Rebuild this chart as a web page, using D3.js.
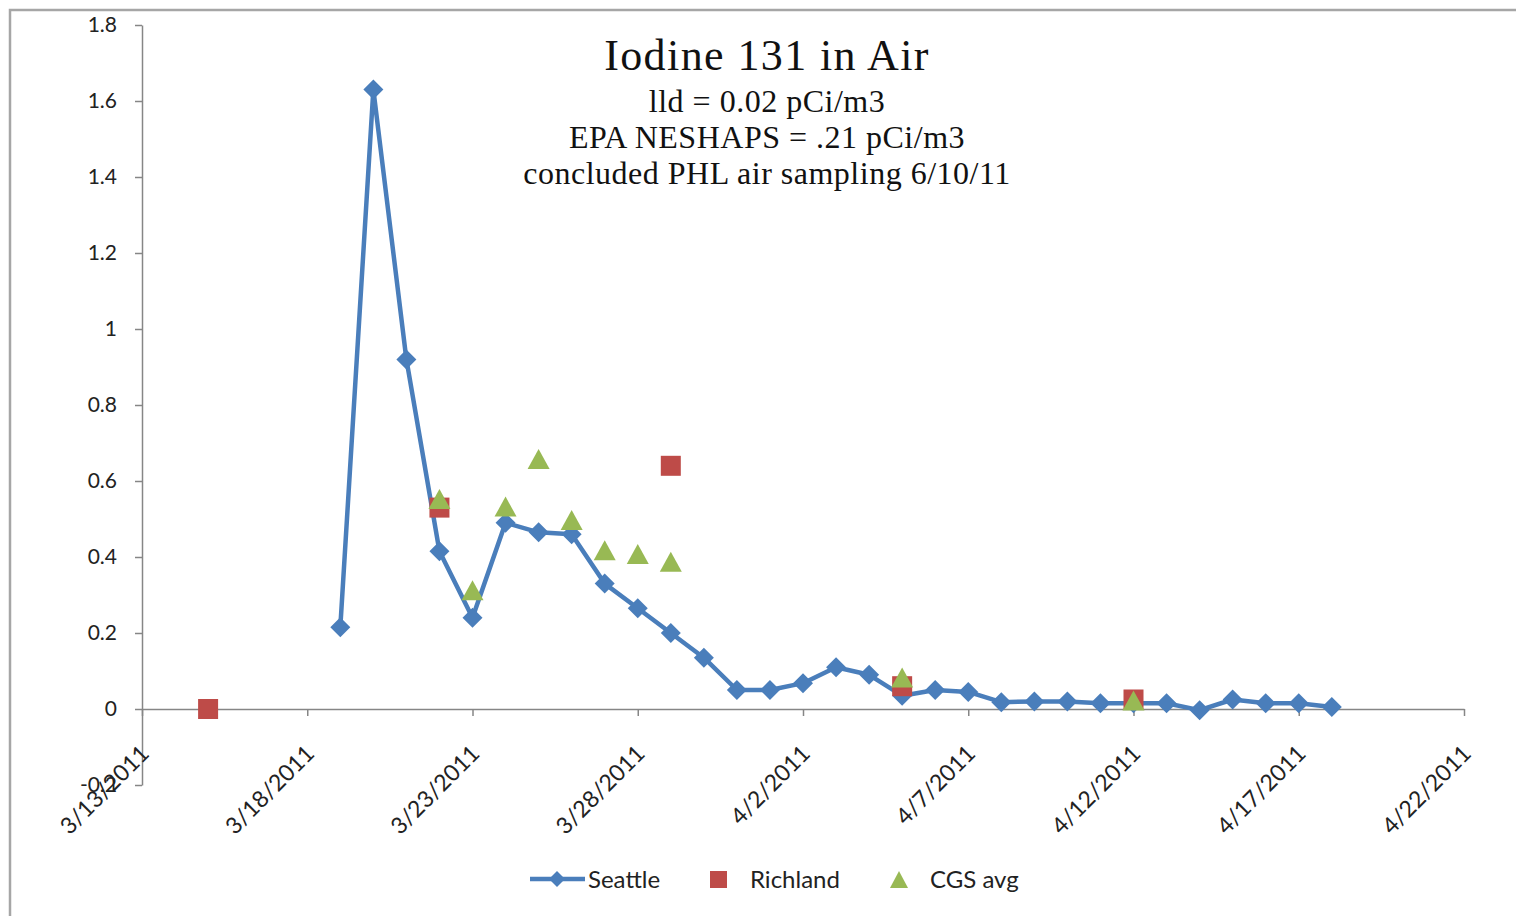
<!DOCTYPE html>
<html><head><meta charset="utf-8">
<script src="https://cdn.jsdelivr.net/npm/d3@7"></script>
<style>
html,body{margin:0;padding:0;background:#fff;overflow:hidden}
svg{display:block}
</style></head>
<body><svg id="c" width="1516" height="916"></svg>
<script>
// ---- data ----
const seattleDates = ["2011-03-19","2011-03-20","2011-03-21","2011-03-22","2011-03-23","2011-03-24","2011-03-25","2011-03-26","2011-03-27","2011-03-28","2011-03-29","2011-03-30","2011-03-31","2011-04-01","2011-04-02","2011-04-03","2011-04-04","2011-04-05","2011-04-06","2011-04-07","2011-04-08","2011-04-09","2011-04-10","2011-04-11","2011-04-12","2011-04-13","2011-04-14","2011-04-15","2011-04-16","2011-04-17","2011-04-18"];
const seattleValues = [0.215,1.63,0.92,0.415,0.24,0.49,0.465,0.46,0.33,0.265,0.2,0.135,0.05,0.05,0.068,0.11,0.09,0.035,0.05,0.045,0.018,0.02,0.02,0.015,0.015,0.015,-0.003,0.025,0.015,0.015,0.005];
const richlandDates = ["2011-03-15","2011-03-22","2011-03-29","2011-04-05","2011-04-12"];
const richlandValues = [0.0,0.53,0.64,0.06,0.025];
const cgsDates = ["2011-03-22","2011-03-23","2011-03-24","2011-03-25","2011-03-26","2011-03-27","2011-03-28","2011-03-29","2011-04-05","2011-04-12"];
const cgsValues = [0.55,0.31,0.53,0.655,0.495,0.415,0.405,0.385,0.08,0.02];
const xTickDates = ["2011-03-13","2011-03-18","2011-03-23","2011-03-28","2011-04-02","2011-04-07","2011-04-12","2011-04-17","2011-04-22"];
const xTickLabels = ["3/13/2011","3/18/2011","3/23/2011","3/28/2011","4/2/2011","4/7/2011","4/12/2011","4/17/2011","4/22/2011"];
const yTicks = [-0.2,0,0.2,0.4,0.6,0.8,1,1.2,1.4,1.6,1.8];
const yTickLabels = ["-0.2","0","0.2","0.4","0.6","0.8","1","1.2","1.4","1.6","1.8"];
const titleText = "Iodine 131 in Air";
const subtitleLines = ["lld = 0.02 pCi/m3","EPA NESHAPS = .21 pCi/m3","concluded PHL air sampling 6/10/11"];
const seriesNames = ["Seattle","Richland","CGS avg"];

// ---- setup ----
const parse = d3.utcParse("%Y-%m-%d");
const svg = d3.select("#c");
const C = {line:"#4a7ebb", red:"#be4b48", green:"#98b954", axis:"#868686", frame:"#a6a6a6"};
const sans = "Lato, 'Open Sans', sans-serif";
const serif = "'Liberation Serif', 'DejaVu Serif', serif";

// frame
svg.append("path").attr("d","M10,916 L10,10 L1516,10").attr("fill","none").attr("stroke",C.frame).attr("stroke-width",2.5);

const x = d3.scaleUtc().domain([parse(xTickDates[0]), parse(xTickDates[xTickDates.length-1])]).range([142,1464]);
const y = d3.scaleLinear().domain([-0.2,1.8]).range([785,25]);

// y axis
const yAxis = d3.axisLeft(y).tickValues(yTicks).tickSize(7).tickSizeOuter(0).tickFormat((d,i)=>yTickLabels[i]);
const gy = svg.append("g").attr("transform","translate(142,0)").call(yAxis);
gy.select(".domain").attr("stroke",C.axis).attr("stroke-width",1.5);
gy.selectAll(".tick line").attr("stroke",C.axis).attr("stroke-width",1.5);
gy.selectAll(".tick text").attr("x",-25).attr("font-family",sans).attr("font-size",21).attr("fill","#222");

// x axis at y=0
const xAxis = d3.axisBottom(x).tickValues(xTickDates.map(parse)).tickSize(7).tickSizeOuter(0).tickFormat((d,i)=>xTickLabels[i]);
const gx = svg.append("g").attr("transform",`translate(0,${y(0)})`).call(xAxis);
gx.select(".domain").attr("stroke",C.axis).attr("stroke-width",1.5);
gx.selectAll(".tick line").attr("stroke",C.axis).attr("stroke-width",1.5);
gx.selectAll(".tick text")
  .attr("font-family",sans).attr("font-size",23).attr("fill","#222")
  .attr("text-anchor","end").attr("y",0).attr("dy",0)
  .attr("transform","translate(8,46) rotate(-45)");

// Seattle line
const sData = seattleDates.map((d,i)=>({x:parse(d), v:seattleValues[i]}));
svg.append("path").datum(sData)
  .attr("d", d3.line().x(d=>x(d.x)).y(d=>y(d.v)))
  .attr("fill","none").attr("stroke",C.line).attr("stroke-width",4.5).attr("stroke-linejoin","round");
const diamond = "M0,-10 L10,0 L0,10 L-10,0 Z";
svg.append("g").selectAll("path").data(sData).join("path")
  .attr("d",diamond).attr("transform",d=>`translate(${x(d.x)},${y(d.v)})`).attr("fill",C.line);

// Richland squares
const rData = richlandDates.map((d,i)=>({x:parse(d), v:richlandValues[i]}));
svg.append("g").selectAll("rect").data(rData).join("rect")
  .attr("x",d=>x(d.x)-10).attr("y",d=>y(d.v)-10).attr("width",20).attr("height",20).attr("fill",C.red);

// CGS triangles
const gData = cgsDates.map((d,i)=>({x:parse(d), v:cgsValues[i]}));
const tri = "M0,-11 L11,9 L-11,9 Z";
svg.append("g").selectAll("path").data(gData).join("path")
  .attr("d",tri).attr("transform",d=>`translate(${x(d.x)},${y(d.v)})`).attr("fill",C.green);

// Title
svg.append("text").attr("x",767).attr("y",70).attr("text-anchor","middle")
  .attr("font-family",serif).attr("font-size",44).attr("letter-spacing",1.4).attr("fill","#111").text(titleText);
subtitleLines.forEach((t,i)=>{
  svg.append("text").attr("x",767).attr("y",112+i*36).attr("text-anchor","middle")
    .attr("font-family",serif).attr("font-size",32).attr("letter-spacing",0.5).attr("fill","#111").text(t);
});

// Legend
const lg = svg.append("g").attr("font-family",sans).attr("font-size",24).attr("fill","#222");
lg.append("line").attr("x1",530).attr("x2",585).attr("y1",879).attr("y2",879).attr("stroke",C.line).attr("stroke-width",4.5);
lg.append("path").attr("d","M0,-8 L8,0 L0,8 L-8,0 Z").attr("transform","translate(557,879)").attr("fill",C.line);
lg.append("text").attr("x",588).attr("y",888).text(seriesNames[0]);
lg.append("rect").attr("x",710).attr("y",871).attr("width",17).attr("height",17).attr("fill",C.red);
lg.append("text").attr("x",750).attr("y",888).text(seriesNames[1]);
lg.append("path").attr("d","M0,-9 L9,8 L-9,8 Z").attr("transform","translate(899,880)").attr("fill",C.green);
lg.append("text").attr("x",930).attr("y",888).text(seriesNames[2]);
</script></body></html>
